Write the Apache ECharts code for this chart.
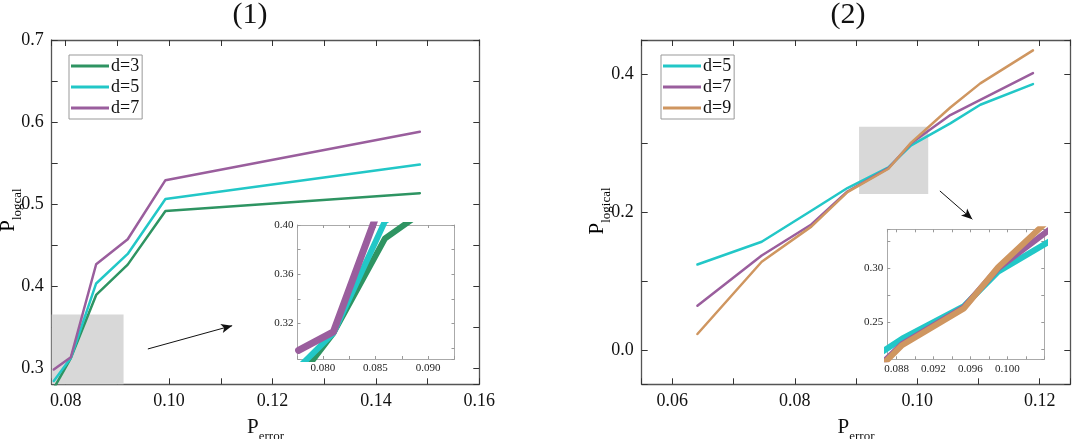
<!DOCTYPE html>
<html>
<head>
<meta charset="utf-8">
<script src="https://cdn.jsdelivr.net/npm/echarts@6/dist/echarts.min.js"></script>
<style>
	html, body { margin: 0; padding: 0; background: #fff; }
	#chart-container { width: 1072px; height: 439px; }
</style>
</head>
<body>
<div id="chart-container"></div>
<script>
// panel (1)
const leftX = [0.0777, 0.0810, 0.0859, 0.0920, 0.0993, 0.1485];
const leftD3 = [0.275, 0.312, 0.389, 0.426, 0.4915, 0.513];
const leftD5 = [0.284, 0.312, 0.403, 0.439, 0.506, 0.548];
const leftD7 = [0.298, 0.313, 0.4265, 0.457, 0.529, 0.588];
const leftNames = ['d=3', 'd=5', 'd=7'];

// panel (2)
const rightX = [0.0641, 0.0746, 0.0827, 0.0886, 0.0953, 0.0990, 0.1054, 0.1103, 0.1189];
const rightD5 = [0.124, 0.157, 0.202, 0.235, 0.265, 0.297, 0.329, 0.356, 0.386];
const rightD7 = [0.064, 0.137, 0.182, 0.230, 0.264, 0.300, 0.341, 0.363, 0.402];
const rightD9 = [0.023, 0.128, 0.179, 0.229, 0.263, 0.301, 0.352, 0.387, 0.435];
const rightNames = ['d=5', 'd=7', 'd=9'];

// zoom boxes [x0, x1, y0, y1] and arrows [x0, y0, x1, y1], in data units
const leftBox = [0.0773, 0.0912, 0.28, 0.365];
const rightBox = [0.0905, 0.1018, 0.2264, 0.3241];
const leftArrow = [0.0959, 0.3231, 0.1122, 0.3515];
const rightArrow = [0.1037, 0.2308, 0.1090, 0.1897];

const colors = { 'd=3': '#2e9462', 'd=5': '#22c7c7', 'd=7': '#9a5e9d', 'd=9': '#cf9660' };
const serif = '"Liberation Serif", "DejaVu Serif", serif';
const nameRich = {
	a: { fontFamily: serif, fontSize: 21, color: '#111', lineHeight: 26, verticalAlign: 'top' },
	b: { fontFamily: serif, fontSize: 13, color: '#111', lineHeight: 26, verticalAlign: 'bottom' }
};

function pairs(xs, ys) {
	return xs.map((x, i) => [x, ys[i]]);
}

/* ---------- AXES ---------- */
function axis(gridIndex, position, range, iv, opts) {
	const inset = opts.inset;
	return {
		type: 'value',
		gridIndex: gridIndex,
		position: position,
		min: range[0],
		max: range[1],
		minInterval: iv,
		maxInterval: iv,
		splitNumber: Math.round((range[1] - range[0]) / iv),
		axisLine: { show: true, onZero: false, lineStyle: { color: inset ? '#aaa' : '#555', width: inset ? 1 : 1.3 } },
		axisTick: { show: true, inside: true, length: inset ? 3 : 6, lineStyle: { color: inset ? '#999' : '#333' } },
		minorTick: { show: true, splitNumber: 2, length: inset ? 3 : 6, lineStyle: { color: inset ? '#999' : '#333' } },
		splitLine: { show: false },
		axisLabel: {
			show: !!opts.labels,
			showMinLabel: false,
			showMaxLabel: !!opts.showMax,
			margin: inset ? 4 : 8,
			fontFamily: serif,
			fontSize: inset ? 11 : 18,
			color: inset ? '#222' : '#111',
			formatter: v => v.toFixed(opts.digits || 2)
		},
		name: opts.name || '',
		nameLocation: 'middle',
		nameGap: opts.nameGap || 0,
		nameTextStyle: { rich: nameRich }
	};
}

const leftXRange = [0.0773, 0.16], leftYRange = [0.28, 0.70];
const rightXRange = [0.055, 0.125], rightYRange = [-0.05, 0.45];
const insetLXRange = [0.0776, 0.0925], insetLYRange = [0.291, 0.40];
const insetRXRange = [0.087, 0.104], insetRYRange = [0.216, 0.336];

const xAxes = [
	axis(0, 'bottom', leftXRange, 0.02, { labels: true, showMax: true, name: '{a|P}{b|error}', nameGap: 33 }),
	axis(0, 'top', leftXRange, 0.02, {}),
	axis(1, 'bottom', rightXRange, 0.02, { labels: true, name: '{a|P}{b|error}', nameGap: 33 }),
	axis(1, 'top', rightXRange, 0.02, {}),
	axis(2, 'bottom', insetLXRange, 0.005, { inset: true, labels: true, digits: 3 }),
	axis(2, 'top', insetLXRange, 0.005, { inset: true }),
	axis(3, 'bottom', insetRXRange, 0.004, { inset: true, labels: true, digits: 3 }),
	axis(3, 'top', insetRXRange, 0.004, { inset: true })
];
const yAxes = [
	axis(0, 'left', leftYRange, 0.1, { labels: true, showMax: true, digits: 1 }),
	axis(0, 'right', leftYRange, 0.1, {}),
	axis(1, 'left', rightYRange, 0.2, { labels: true, digits: 1 }),
	axis(1, 'right', rightYRange, 0.2, {}),
	axis(2, 'left', insetLYRange, 0.04, { inset: true, labels: true, showMax: true }),
	axis(2, 'right', insetLYRange, 0.04, { inset: true }),
	axis(3, 'left', insetRYRange, 0.05, { inset: true, labels: true }),
	axis(3, 'right', insetRYRange, 0.05, { inset: true })
];

/* ---------- SERIES ---------- */
function lineSeries(name, xs, ys, axisIdx, width) {
	return {
		name: name,
		type: 'line',
		xAxisIndex: axisIdx,
		yAxisIndex: axisIdx,
		data: pairs(xs, ys),
		symbol: 'none',
		silent: true,
		animation: false,
		clip: true,
		color: colors[name],
		lineStyle: { color: colors[name], width: width, cap: 'round', join: 'round' }
	};
}

function boxSeries(axisIdx, box, arrow) {
	return {
		type: 'line',
		xAxisIndex: axisIdx,
		yAxisIndex: axisIdx,
		data: [],
		z: 1,
		silent: true,
		animation: false,
		markArea: {
			silent: true,
			itemStyle: { color: '#d8d8d8' },
			data: [[{ coord: [box[0], box[3]] }, { coord: [box[1], box[2]] }]]
		},
		markLine: {
			silent: true,
			symbol: ['none', 'arrow'],
			symbolSize: [7, 11],
			label: { show: false },
			lineStyle: { color: '#111', width: 1, type: 'solid' },
			data: [[{ coord: [arrow[0], arrow[1]] }, { coord: [arrow[2], arrow[3]] }]]
		}
	};
}

const leftData = [leftD3, leftD5, leftD7];
const rightData = [rightD5, rightD7, rightD9];
const series = [boxSeries(0, leftBox, leftArrow), boxSeries(2, rightBox, rightArrow)];
leftNames.forEach((n, i) => series.push(lineSeries(n, leftX, leftData[i], 0, 2.5)));
rightNames.forEach((n, i) => series.push(lineSeries(n, rightX, rightData[i], 2, 2.5)));
leftNames.forEach((n, i) => series.push(lineSeries(n, leftX, leftData[i], 4, i === 2 ? 7 : 6)));
rightNames.forEach((n, i) => series.push(lineSeries(n, rightX, rightData[i], 6, 6)));

/* ---------- LEGENDS ---------- */
function legend(names, left, top) {
	return {
		data: names,
		orient: 'vertical',
		left: left,
		top: top,
		icon: 'rect',
		itemWidth: 38,
		itemHeight: 3,
		itemGap: 3,
		padding: [2, 3, 2, 2],
		borderColor: '#999',
		borderWidth: 1,
		selectedMode: false,
		textStyle: { fontFamily: serif, fontSize: 18, color: '#111', lineHeight: 18, padding: [0, 0, 0, -3] }
	};
}

// rotated y-axis names
function yName(text, x, y) {
	return {
		type: 'text',
		x: x,
		y: y,
		rotation: Math.PI / 2,
		silent: true,
		style: { text: text, rich: nameRich, align: 'center', verticalAlign: 'middle' }
	};
}

const chart = echarts.init(document.getElementById('chart-container'), null, { renderer: 'canvas' });
chart.setOption({
	animation: false,
	backgroundColor: '#fff',
	title: [
		{ text: '(1)', left: 250, top: 0, padding: 0, textAlign: 'center', textStyle: { fontFamily: serif, fontSize: 30, fontWeight: 'normal', color: '#111' } },
		{ text: '(2)', left: 848, top: 0, padding: 0, textAlign: 'center', textStyle: { fontFamily: serif, fontSize: 30, fontWeight: 'normal', color: '#111' } }
	],
	legend: [legend(leftNames, 69, 55), legend(rightNames, 661, 55)],
	grid: [
		{ left: 51.7, top: 40, width: 427.6, height: 344.3, containLabel: false, outerBoundsMode: 'none', show: true, backgroundColor: '#fff', borderWidth: 0 },
		{ left: 641.7, top: 40, width: 428.6, height: 344.3, containLabel: false, outerBoundsMode: 'none', show: true, backgroundColor: '#fff', borderWidth: 0 },
		{ left: 297.5, top: 225, width: 157, height: 134, containLabel: false, outerBoundsMode: 'none', show: true, backgroundColor: '#fff', borderWidth: 0 },
		{ left: 887.3, top: 229.3, width: 157, height: 130, containLabel: false, outerBoundsMode: 'none', show: true, backgroundColor: '#fff', borderWidth: 0 }
	],
	graphic: [yName('{a|P}{b|logcal}', 11, 210), yName('{a|P}{b|logical}', 600, 211)],
	xAxis: xAxes,
	yAxis: yAxes,
	series: series
});
</script>
</body>
</html>
